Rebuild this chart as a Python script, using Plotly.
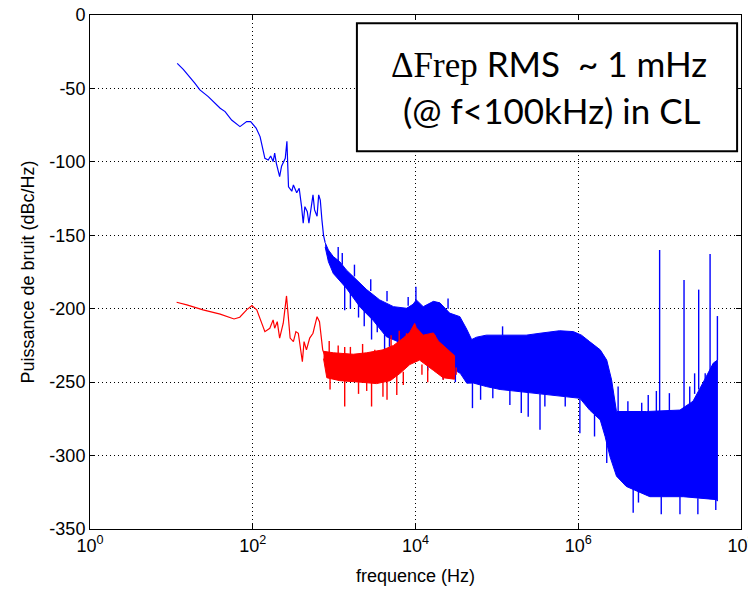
import plotly.graph_objects as go

# ---------------- data ----------------
# Blue trace, low-frequency part (Hz, dBc/Hz)
blue_f = [11.8, 14.0, 19.5, 22.4, 28.4, 39.8, 45.7, 55, 69.7, 84.1, 94.2, 110, 123, 132, 141,
          155, 166, 178, 186, 195, 214, 226, 251, 263, 269, 275, 302, 316, 347, 372, 398, 417,
          437, 468, 490, 525, 550, 575, 617, 646, 676, 708, 741, 776]
blue_db = [-32.9, -37, -46.5, -51, -55.6, -63.5, -65.8, -71.5, -76, -72.6, -72.6, -77, -82.8,
           -90.7, -97.6, -98.7, -96, -99.8, -94, -101, -110, -103, -97.6, -86, -101, -117, -120,
           -115.7, -121, -118, -130.5, -141.8, -130.5, -134, -141.8, -130.5, -122.5, -132.7, -137,
           -122.5, -126, -139.5, -150, -155]

# Blue noise band: upper and lower envelopes
blue_up_f = [776, 851, 977, 1175, 1413, 1905, 2512, 3631, 5370, 7762, 9333, 10230, 12450, 16600,
             19950, 26300, 35080, 42660, 48980, 56230, 74130, 109600, 158500, 229100, 338800,
             489800, 588800, 871000, 1096000, 1380000, 1862000, 2239000, 2570000, 2951000,
             6918000, 17780000, 25700000, 33880000, 45710000, 51290000]
blue_up_db = [-155, -160, -164.5, -168, -173.6, -180.4, -187, -194, -198.6, -199.7, -197, -194,
              -198.6, -195, -196, -203, -205.4, -214, -221, -219.4, -218, -218, -218, -218, -216.7,
              -215.6, -215, -215.6, -218, -222.4, -228, -235, -248.5, -270, -270, -269, -263,
              -250.7, -237, -235]
blue_lo_f = [776, 851, 977, 1413, 2089, 3020, 4365, 6457, 9333, 11220, 19950, 35480, 42660, 51290,
             74130, 109600, 281800, 724400, 1047000, 1380000, 1862000, 2138000, 2455000, 2951000,
             3890000, 7586000, 19500000, 50120000, 51290000]
blue_lo_db = [-158, -168, -176, -186, -199, -208, -219, -223, -221, -227, -236, -244,
              -250.7, -250.6, -253, -255, -257.5, -260, -261, -269, -275.7, -287, -300.7, -314,
              -321, -328, -328, -330, -331]

# Blue isolated spikes: frequency, start level, end level
blue_spk_f = [1349, 2884, 4169, 21880, 50120, 89130, 144500, 199500, 242700, 338800, 389000,
              691800, 1047000, 1585000, 2239000, 4732000, 5495000, 10470000, 17780000, 29510000,
              48980000, 10120, 117500, 10000000, 19950000, 30200000, 41690000, 51290000, 3090000,
              4074000, 6026000, 7244000, 9120000, 13180000, 23440000, 26920000, 36310000,
              1585, 1995, 2344, 3388, 4786, 6026, 7079, 1259, 1778, 2818, 4467, 8128,
              14130, 30900, 63100, 1122, 25120]
blue_spk_a = [-180, -200, -214, -236, -250, -252, -255, -256, -257, -258, -258, -260, -261, -272,
              -290, -322, -324, -328, -328, -329, -330, -195, -218, -270, -268, -255, -245, -235,
              -270, -270, -270, -270, -270, -270, -265, -258, -248,
              -185, -195, -200, -207, -216, -220, -222, -170, -178, -188, -195, -198,
              -230, -240, -250, -168, -200]
blue_spk_b = [-201, -221, -228, -248, -267.7, -261, -265.5, -271, -273.5, -282.5, -266.6, -266.6,
              -284.8, -287, -305, -339, -332, -340, -340, -340, -337, -185, -212, -160, -180.4,
              -187, -162.7, -205, -253, -263, -264, -258.7, -256, -257.5, -253, -244, -244,
              -200, -206, -212, -216, -226, -229, -232, -162, -170, -180, -188, -192,
              -242, -250, -262, -158, -193]

# Red trace, low-frequency part
red_f = [11.6, 15.5, 24.5, 39.8, 58.9, 69.2, 84.1, 97.7, 112, 123, 141, 162, 178, 186, 200, 214,
         237, 260, 275, 288, 316, 339, 363, 380, 407, 427, 457, 501, 550, 575, 617, 661, 676, 724, 776]
red_db = [-195.6, -197.4, -200.8, -203.7, -207, -205.8, -200.8, -197.9, -200.8, -206.5, -215.6,
          -213.3, -207.6, -213.3, -208.8, -220, -209.9, -191.3, -209.9, -220, -222.4, -215.6,
          -216.7, -225.8, -236, -222.4, -228, -220, -216.7, -212.2, -205.4, -208.8, -214.4, -228,
          -232.6]

# Red noise band envelopes
red_up_f = [741, 977, 1718, 2512, 3981, 5370, 7079, 8511, 9772, 10230, 12450, 16600, 19050, 23990, 30200]
red_up_db = [-229, -230, -231, -230, -228, -225, -220, -216, -210, -213, -218,
             -216.5, -222, -227, -232]
red_lo_f = [741, 813, 1175, 2089, 3311, 4898, 6457, 8511, 11220, 16600, 21880, 30200]
red_lo_db = [-234, -247, -249, -250, -251, -249, -244, -238, -235, -242, -247, -248]

# Red isolated spikes
red_spk_f = [1023, 1349, 2884, 3981, 5888, 21880, 31620, 1349, 3162, 7762, 17380,
             870, 1122, 1585, 2238, 5012, 6310, 891, 1995, 2512, 4467, 7080, 12000, 14125]
red_spk_a = [-244, -246, -248, -246, -244, -246, -240, -234, -232, -224, -222,
             -232, -232, -233, -232, -227, -223, -246, -249, -250, -248, -243, -238, -240]
red_spk_b = [-248.5, -266.6, -266.6, -260, -258.7, -248.5, -245, -226, -228, -216.7, -218,
             -222, -225, -226, -224, -218, -215, -255, -258, -256, -262, -252, -245, -250]

# Axis ticks
x_tickvals = [1, 1e2, 1e4, 1e6, 1e8]
x_ticktext = ["10<sup>0</sup>", "10<sup>2</sup>", "10<sup>4</sup>", "10<sup>6</sup>", "10<sup>8</sup>"]
y_tickvals = [0, -50, -100, -150, -200, -250, -300, -350]
y_ticktext = ["0", "-50", "-100", "-150", "-200", "-250", "-300", "-350"]

BLUE = "#0000FF"
RED = "#FF0000"


def spikes(fs, a, b):
    xs, ys = [], []
    for f, y0, y1 in zip(fs, a, b):
        xs += [f, f, None]
        ys += [y0, y1, None]
    return xs, ys


fig = go.Figure()

# Blue
fig.add_trace(go.Scatter(x=blue_f, y=blue_db, mode="lines",
                         line=dict(color=BLUE, width=1.2), hoverinfo="skip"))
fig.add_trace(go.Scatter(x=blue_up_f + blue_lo_f[::-1], y=blue_up_db + blue_lo_db[::-1],
                         mode="lines", fill="toself", fillcolor=BLUE,
                         line=dict(color=BLUE, width=1), hoverinfo="skip"))
bx, by = spikes(blue_spk_f, blue_spk_a, blue_spk_b)
fig.add_trace(go.Scatter(x=bx, y=by, mode="lines", line=dict(color=BLUE, width=1.4),
                         hoverinfo="skip"))

# Red (drawn on top)
fig.add_trace(go.Scatter(x=red_f, y=red_db, mode="lines",
                         line=dict(color=RED, width=1.2), hoverinfo="skip"))
fig.add_trace(go.Scatter(x=red_up_f + red_lo_f[::-1], y=red_up_db + red_lo_db[::-1],
                         mode="lines", fill="toself", fillcolor=RED,
                         line=dict(color=RED, width=1), hoverinfo="skip"))
rx, ry = spikes(red_spk_f, red_spk_a, red_spk_b)
fig.add_trace(go.Scatter(x=rx, y=ry, mode="lines", line=dict(color=RED, width=1.4),
                         hoverinfo="skip"))

axis_font = dict(family="Liberation Sans, Arial, sans-serif", size=18, color="#000")

fig.update_xaxes(type="log", range=[0, 8], tickvals=x_tickvals, ticktext=x_ticktext,
                 ticklabeloverflow="allow", automargin=False,
                 showline=True, linecolor="#000", linewidth=1, mirror="ticks",
                 ticks="inside", ticklen=5, tickcolor="#000",
                 showgrid=True, gridcolor="#000", gridwidth=1, griddash="1px,3px",
                 zeroline=False, tickfont=axis_font,
                 title=dict(text="frequence (Hz)", font=axis_font, standoff=14))
fig.update_yaxes(range=[-350, 0], tickvals=y_tickvals, ticktext=y_ticktext, automargin=False,
                 showline=True, linecolor="#000", linewidth=1, mirror="ticks",
                 ticks="inside", ticklen=5, tickcolor="#000",
                 showgrid=True, gridcolor="#000", gridwidth=1, griddash="1px,3px",
                 zeroline=False, tickfont=axis_font,
                 title=dict(text="Puissance de bruit (dBc/Hz)", font=axis_font, standoff=10))

# Annotation box
fig.add_shape(type="rect", xref="paper", yref="paper", x0=0.410, x1=0.994, y0=0.735, y1=0.984,
              line=dict(color="#000", width=2), fillcolor="#FFFFFF", layer="above")
fig.add_annotation(xref="paper", yref="paper", x=0.705, y=0.905, xanchor="center", yanchor="middle",
                   showarrow=False,
                   text='<span style="font-family:Liberation Serif">ΔFrep</span> RMS  ~ 1 mHz',
                   font=dict(family="Lato, sans-serif", size=35, color="#000"))
fig.add_annotation(xref="paper", yref="paper", x=0.71, y=0.815, xanchor="center", yanchor="middle",
                   showarrow=False, text="(@ f<100kHz) in CL",
                   font=dict(family="Lato, sans-serif", size=35, color="#000"))

fig.update_layout(width=748, height=592, margin=dict(l=90, r=7, t=15, b=63, autoexpand=False),
                  paper_bgcolor="#FFFFFF", plot_bgcolor="#FFFFFF", showlegend=False)

fig.write_html("out.html")
